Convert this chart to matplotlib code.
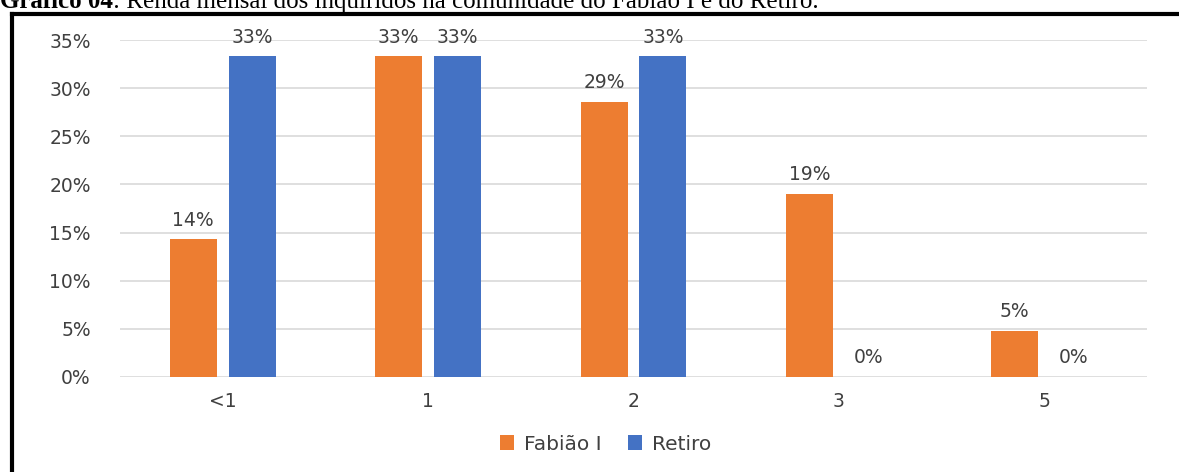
import numpy as np
import matplotlib
matplotlib.use("Agg")
import matplotlib.pyplot as plt
from matplotlib.lines import Line2D

# data
categories = ["<1", "1", "2", "3", "5"]
fabiao = [0.143, 0.333, 0.286, 0.190, 0.048]
retiro = [0.333, 0.333, 0.333, 0.0, 0.0]
labels_fabiao = ["14%", "33%", "29%", "19%", "5%"]
labels_retiro = ["33%", "33%", "33%", "0%", "0%"]
series_names = ["Fabião I", "Retiro"]
yticks = [0, 0.05, 0.10, 0.15, 0.20, 0.25, 0.30, 0.35]

ORANGE = "#ED7D31"
BLUE = "#4472C4"
TXT = "#404040"
FS = 13.5

plt.rcParams['font.family'] = ['DejaVu Sans']

W, H = 1179, 472
fig = plt.figure(figsize=(W / 100, H / 100), dpi=100)
ax = fig.add_axes([120 / W, 1 - 377 / H, (1147 - 120) / W, (377 - 40) / H])

x = np.arange(len(categories))
bw = 0.229
off = 0.1435
b1 = ax.bar(x - off, fabiao, bw, color=ORANGE, label=series_names[0], zorder=3)
b2 = ax.bar(x + off, retiro, bw, color=BLUE, label=series_names[1], zorder=3)

for bars, labs in ((b1, labels_fabiao), (b2, labels_retiro)):
    for bar, lab in zip(bars, labs):
        ax.annotate(lab, (bar.get_x() + bar.get_width() / 2, bar.get_height()),
                    textcoords="offset points", xytext=(0, 7),
                    ha='center', va='bottom', fontsize=FS, color=TXT)

ax.set_xlim(-0.5, len(categories) - 0.5)
ax.set_ylim(0, 0.35)
ax.set_yticks(yticks)
ax.set_yticklabels([f"{int(round(t * 100))}%" for t in yticks])
ax.set_xticks(x)
ax.set_xticklabels(categories)
ax.tick_params(axis='both', length=0, labelsize=FS, labelcolor=TXT)
ax.tick_params(axis='y', pad=21)
ax.tick_params(axis='x', pad=11)
ax.grid(axis='y', color="#D9D9D9", linewidth=1.2, zorder=0)
ax.set_axisbelow(True)
for s in ax.spines.values():
    s.set_visible(False)

fig.legend(loc='center', bbox_to_anchor=(606 / W, 1 - 444 / H), ncol=2, frameon=False,
           fontsize=14.5, handlelength=0.7, handleheight=0.7, columnspacing=1.3,
           handletextpad=0.5, labelcolor=TXT)

# frame lines (top and left)
fig.add_artist(Line2D([12 / W, 1.0], [1 - 14 / H, 1 - 14 / H], color='black', lw=3, transform=fig.transFigure))
fig.add_artist(Line2D([12 / W, 12 / W], [0, 1 - 14 / H], color='black', lw=3, transform=fig.transFigure))

# caption, partly cut off at the top as in the source
t1 = fig.text(0.0, 1 - 8 / H, "Gráfico 04", fontsize=18, fontweight='bold',
              family='Liberation Serif', va='baseline')
fig.canvas.draw()
bb = t1.get_window_extent()
fig.text(bb.x1 / W, 1 - 8 / H, ": Renda mensal dos inquiridos na comunidade do Fabião I e do Retiro.",
         fontsize=18, family='Liberation Serif', va='baseline')

fig.savefig("out.png", dpi=100)
